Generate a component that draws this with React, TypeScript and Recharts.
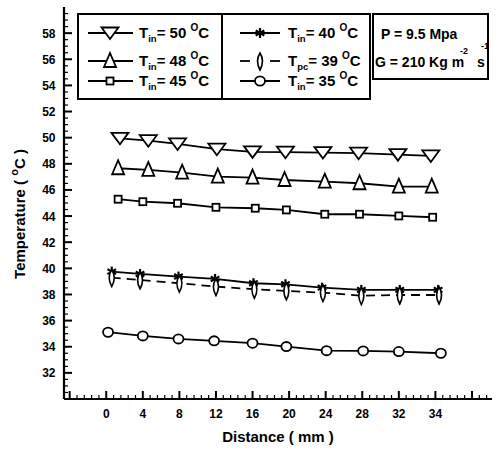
import React from 'react';
import { LineChart, Line, XAxis, YAxis } from 'recharts';

// ---- data (x in axis units where major ticks sit every 4) ----
const xTin50 = [1.5, 4.6, 7.8, 12.1, 16.0, 19.6, 23.7, 27.6, 31.9, 35.5];
const tTin50 = [49.95, 49.77, 49.52, 49.12, 48.91, 48.89, 48.86, 48.81, 48.7, 48.6];
const xTin48 = [1.3, 4.6, 8.3, 12.2, 16.0, 19.5, 23.9, 27.7, 32.0, 35.6];
const tTin48 = [47.66, 47.53, 47.32, 47.02, 46.94, 46.76, 46.63, 46.51, 46.25, 46.25];
const xTin45 = [1.3, 4.0, 7.8, 12.0, 16.3, 19.7, 23.9, 27.7, 32.0, 35.7];
const tTin45 = [45.29, 45.1, 44.98, 44.67, 44.6, 44.47, 44.14, 44.14, 44.01, 43.91];
const xTin40 = [0.6, 3.7, 7.9, 11.9, 16.1, 19.6, 23.6, 27.9, 32.1, 36.3];
const tTin40 = [39.75, 39.57, 39.37, 39.19, 38.86, 38.78, 38.52, 38.35, 38.35, 38.35];
const xTpc39 = [0.6, 3.7, 8.0, 12.0, 16.2, 19.7, 23.7, 27.9, 32.1, 36.4];
const tTpc39 = [39.29, 39.11, 38.86, 38.6, 38.4, 38.27, 38.14, 37.91, 37.96, 37.96];
const xTin35 = [0.2, 4.0, 7.9, 11.8, 16.0, 19.7, 24.1, 28.1, 32.0, 36.6];
const tTin35 = [35.11, 34.83, 34.6, 34.45, 34.27, 34.01, 33.7, 33.68, 33.63, 33.5];

const xTickLabels = ['0', '4', '8', '12', '16', '20', '24', '28', '32', '34', ''];
const yTickLabels = ['32', '34', '36', '38', '40', '42', '44', '46', '48', '50', '52', '54', '56', '58'];

const legendLeft = [
  { sub: 'in', val: '50' },
  { sub: 'in', val: '48' },
  { sub: 'in', val: '45' },
];
const legendRight = [
  { sub: 'in', val: '40' },
  { sub: 'pc', val: '39' },
  { sub: 'in', val: '35' },
];

const zip = (xs: number[], ys: number[]) => xs.map((x, i) => ({ x, y: ys[i] }));
const d50 = zip(xTin50, tTin50);
const d48 = zip(xTin48, tTin48);
const d45 = zip(xTin45, tTin45);
const d40 = zip(xTin40, tTin40);
const d39 = zip(xTpc39, tTpc39);
const d35 = zip(xTin35, tTin35);

const X_DOMAIN: [number, number] = [-4.62, 42.19];
const Y_DOMAIN: [number, number] = [30, 60];
const xTicks = Array.from({ length: 58 }, (_, k) => Math.round((-4 + k * 0.8) * 100) / 100);
const yTicks = Array.from({ length: 59 }, (_, k) => 30.5 + k * 0.5);

const FONT = '"Liberation Sans", Arial, sans-serif';
const SW = 1.8;

// ---- marker shapes ----
const DownTri = ({ cx, cy }: any) => (
  <polygon points={`${cx - 8.5},${cy - 5.5} ${cx + 8.5},${cy - 5.5} ${cx},${cy + 6}`} fill="#fff" stroke="#000" strokeWidth={SW} />
);
const UpTri = ({ cx, cy }: any) => (
  <polygon points={`${cx},${cy - 8} ${cx + 6},${cy + 6} ${cx - 6},${cy + 6}`} fill="#fff" stroke="#000" strokeWidth={SW} />
);
const Sq = ({ cx, cy }: any) => (
  <rect x={cx - 3.5} y={cy - 3.5} width={7} height={7} fill="#fff" stroke="#000" strokeWidth={SW} />
);
const Star = ({ cx, cy }: any) => (
  <g stroke="#000" strokeWidth={2.2}>
    <line x1={cx} y1={cy - 5} x2={cx} y2={cy + 5} />
    <line x1={cx - 4.3} y1={cy - 2.5} x2={cx + 4.3} y2={cy + 2.5} />
    <line x1={cx - 4.3} y1={cy + 2.5} x2={cx + 4.3} y2={cy - 2.5} />
  </g>
);
const Spindle = ({ cx, cy }: any) => (
  <path d={`M${cx},${cy - 8} Q${cx + 5},${cy} ${cx},${cy + 9} Q${cx - 5},${cy} ${cx},${cy - 8} Z`} fill="#fff" stroke="#000" strokeWidth={1.6} />
);
const Circ = ({ cx, cy }: any) => (
  <ellipse cx={cx} cy={cy} rx={5} ry={4.6} fill="#fff" stroke="#000" strokeWidth={SW} />
);

const dotOf = (Shape: any) => (p: any) => <Shape key={`d${p.index}`} cx={p.cx} cy={p.cy} />;

const XTick = (props: any) => {
  const { x, y, payload } = props;
  const v = payload.value;
  const q = v / 4;
  const major = Math.abs(q - Math.round(q)) < 1e-6;
  const label = major ? xTickLabels[Math.round(q)] : '';
  return (
    <g>
      <line x1={x} x2={x} y1={y} y2={y - (major ? 8 : 4)} stroke="#000" strokeWidth={major ? 2 : 1.2} />
      {label ? (
        <text x={x} y={y + 19} textAnchor="middle" fontSize={12} fontWeight="bold" fontFamily={FONT} fill="#000">{label}</text>
      ) : null}
    </g>
  );
};

const YTick = (props: any) => {
  const { x, y, payload } = props;
  const v = payload.value;
  const major = Math.abs(v / 2 - Math.round(v / 2)) < 1e-6;
  const idx = Math.round((v - 32) / 2);
  const label = major && idx >= 0 && idx < yTickLabels.length ? yTickLabels[idx] : '';
  return (
    <g>
      <line x1={x} x2={x + (major ? 8 : 4)} y1={y} y2={y} stroke="#000" strokeWidth={major ? 2 : 1.2} />
      {label ? (
        <text x={x - 8.5} y={y + 4.5} textAnchor="end" fontSize={12} fontWeight="bold" fontFamily={FONT} fill="#000">{label}</text>
      ) : null}
    </g>
  );
};

const LegendLabel = ({ x, y, sub, val }: any) => (
  <text x={x} y={y} fontSize={15} fontWeight="bold" fontFamily={FONT} fill="#000">
    T<tspan fontSize={9.5} dy={4}>{sub}</tspan>
    <tspan dy={-4}>{`= ${val} `}</tspan>
    <tspan fontSize={10} dy={-7}>O</tspan>
    <tspan dy={7}>C</tspan>
  </text>
);

const rowsY = [33, 61, 81];
const leftShapes = [DownTri, UpTri, Sq];
const rightShapes = [Star, Spindle, Circ];

const Overlay = () => (
  <svg width={499} height={451} style={{ position: 'absolute', left: 0, top: 0, pointerEvents: 'none' }}>
    <rect x={78} y={14} width={144} height={85} fill="none" stroke="#000" strokeWidth={2} />
    <rect x={222} y={14} width={148} height={85} fill="none" stroke="#000" strokeWidth={2} />
    <rect x={373} y={14} width={115} height={65} fill="none" stroke="#000" strokeWidth={2} />
    {legendLeft.map((s, i) => {
      const Shape = leftShapes[i];
      return (
        <g key={`l${i}`}>
          <line x1={88} x2={133} y1={rowsY[i]} y2={rowsY[i]} stroke="#000" strokeWidth={SW} />
          <Shape cx={110} cy={rowsY[i]} />
          <LegendLabel x={139} y={rowsY[i] + 5} sub={s.sub} val={s.val} />
        </g>
      );
    })}
    {legendRight.map((s, i) => {
      const Shape = rightShapes[i];
      return (
        <g key={`r${i}`}>
          {i === 1 ? (
            <g stroke="#000" strokeWidth={SW}>
              <line x1={240} x2={250} y1={rowsY[i]} y2={rowsY[i]} />
              <line x1={270} x2={280} y1={rowsY[i]} y2={rowsY[i]} />
            </g>
          ) : (
            <line x1={240} x2={280} y1={rowsY[i]} y2={rowsY[i]} stroke="#000" strokeWidth={SW} />
          )}
          <Shape cx={260} cy={rowsY[i]} />
          <LegendLabel x={288} y={rowsY[i] + 5} sub={s.sub} val={s.val} />
        </g>
      );
    })}
    <text x={381} y={38.5} fontSize={14} fontWeight="bold" fontFamily={FONT}>P = 9.5 Mpa</text>
    <text x={375} y={67} fontSize={14} fontWeight="bold" fontFamily={FONT}>G = 210 Kg m</text>
    <text x={460} y={53.5} fontSize={9} fontWeight="bold" fontFamily={FONT}>-2</text>
    <text x={477} y={67} fontSize={14} fontWeight="bold" fontFamily={FONT}>s</text>
    <text x={481} y={49} fontSize={9} fontWeight="bold" fontFamily={FONT}>-1</text>
    <text x={278} y={442} textAnchor="middle" fontSize={15} fontWeight="bold" fontFamily={FONT}>Distance ( mm )</text>
    <text transform="rotate(-90)" x={-214} y={25} textAnchor="middle" fontSize={15} fontWeight="bold" fontFamily={FONT}>
      Temperature ( <tspan fontSize={11} dy={-7}>o</tspan><tspan dy={7}>C</tspan> )
    </text>
  </svg>
);

export default function App() {
  return (
    <div style={{ position: 'absolute', left: 0, top: 0, width: 499, height: 451, background: '#fff' }}>
      <LineChart width={499} height={451} margin={{ top: 7, right: 7, left: 24, bottom: 0 }}>
        <XAxis
          xAxisId="main"
          dataKey="x"
          type="number"
          domain={X_DOMAIN}
          allowDataOverflow
          ticks={xTicks}
          interval={0}
          height={52}
          tickSize={0}
          tickMargin={0}
          tickLine={false}
          axisLine={{ stroke: '#000', strokeWidth: 2.2 }}
          tick={<XTick />}
        />
        <XAxis
          xAxisId="top"
          orientation="top"
          type="number"
          domain={X_DOMAIN}
          allowDataOverflow
          height={0}
          tick={false}
          tickLine={false}
          axisLine={{ stroke: '#000', strokeWidth: 2.2 }}
        />
        <YAxis
          yAxisId="main"
          type="number"
          domain={Y_DOMAIN}
          allowDataOverflow
          ticks={yTicks}
          interval={0}
          width={40}
          tickSize={0}
          tickMargin={0}
          tickLine={false}
          axisLine={{ stroke: '#000', strokeWidth: 2.2 }}
          tick={<YTick />}
        />
        <YAxis
          yAxisId="right"
          orientation="right"
          type="number"
          domain={Y_DOMAIN}
          allowDataOverflow
          width={0}
          tick={false}
          tickLine={false}
          axisLine={{ stroke: '#000', strokeWidth: 2.2 }}
        />
        <Line xAxisId="main" yAxisId="main" data={d50} dataKey="y" stroke="#000" strokeWidth={SW} isAnimationActive={false} dot={dotOf(DownTri)} />
        <Line xAxisId="main" yAxisId="main" data={d48} dataKey="y" stroke="#000" strokeWidth={SW} isAnimationActive={false} dot={dotOf(UpTri)} />
        <Line xAxisId="main" yAxisId="main" data={d45} dataKey="y" stroke="#000" strokeWidth={SW} isAnimationActive={false} dot={dotOf(Sq)} />
        <Line xAxisId="main" yAxisId="main" data={d40} dataKey="y" stroke="#000" strokeWidth={SW} isAnimationActive={false} dot={dotOf(Star)} />
        <Line xAxisId="main" yAxisId="main" data={d39} dataKey="y" stroke="#000" strokeWidth={SW} strokeDasharray="9 6" isAnimationActive={false} dot={dotOf(Spindle)} />
        <Line xAxisId="main" yAxisId="main" data={d35} dataKey="y" stroke="#000" strokeWidth={SW} isAnimationActive={false} dot={dotOf(Circ)} />
      </LineChart>
      <Overlay />
    </div>
  );
}
